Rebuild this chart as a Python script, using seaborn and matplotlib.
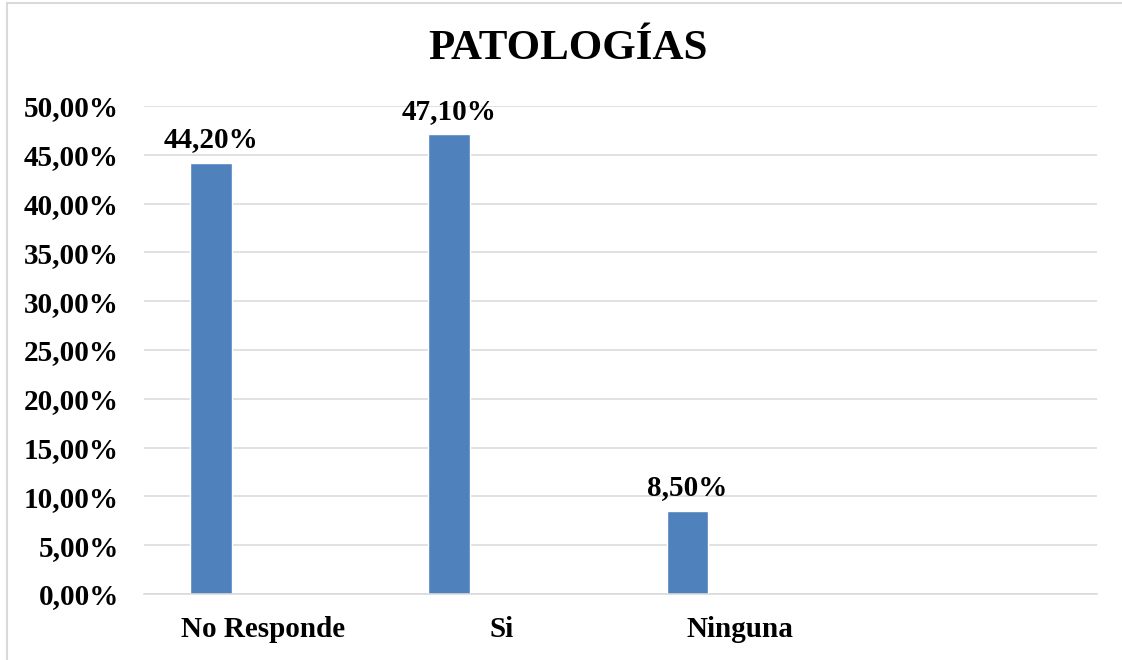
import numpy as np
import pandas as pd
import matplotlib
matplotlib.use("Agg")
import matplotlib.pyplot as plt
from matplotlib.lines import Line2D
from matplotlib.ticker import FuncFormatter, MultipleLocator
import seaborn as sns

# Chart data (percentages)
categories = ["No Responde", "Si", "Ninguna", ""]
values = [44.2, 47.1, 8.5, np.nan]
series = ["Serie 1", "Serie 1", "Serie 1", "Serie 1"]
series_order = ["Serie 1", "Serie 2", "Serie 3"]
title = "PATOLOGÍAS"

df = pd.DataFrame({"categoria": categories, "valor": values, "serie": series})

sns.set_theme(style="white")
plt.rcParams['font.family'] = ['Liberation Serif', 'DejaVu Serif']
plt.rcParams['font.weight'] = 'bold'

bar_color = "#4F81BD"
grid_color = "#D9D9D9"

fig = plt.figure(figsize=(11.22, 6.60), dpi=100)
ax = fig.add_axes([0.1283, 0.1, 0.8494, 0.7394])

sns.barplot(data=df, x="categoria", y="valor", hue="serie",
            order=categories, hue_order=series_order,
            palette=[bar_color, bar_color, bar_color],
            width=0.657, gap=0.2, dodge=True, errorbar=None,
            saturation=1, legend=False, ax=ax)

# Data labels
fmt = lambda v: f"{v:.2f}%".replace(".", ",")
for cont in ax.containers:
    labels = [fmt(v) if np.isfinite(v) else "" for v in cont.datavalues]
    ax.bar_label(cont, labels=labels, padding=7, fontsize=21,
                 fontweight='bold', color='black')

ax.set_ylim(0, 50)
ax.set_xlim(-0.5, len(categories) - 0.5)
ax.yaxis.set_major_locator(MultipleLocator(5))
ax.yaxis.set_major_formatter(FuncFormatter(lambda v, p: fmt(v)))
ax.grid(axis='y', color=grid_color, linewidth=1.1)
ax.set_axisbelow(True)
for s in ["top", "right", "left"]:
    ax.spines[s].set_visible(False)
ax.spines["bottom"].set_color(grid_color)
ax.spines["bottom"].set_linewidth(1.1)
ax.tick_params(axis='both', length=0, labelsize=21, colors='black')
ax.tick_params(axis='y', pad=18)
ax.tick_params(axis='x', pad=16)
for lbl in ax.get_xticklabels() + ax.get_yticklabels():
    lbl.set_fontweight('bold')
ax.set_xlabel("")
ax.set_ylabel("")

fig.text(568 / 1122, 1 - 49 / 660, title, ha='center', va='center',
         fontsize=31, fontweight='bold', color='black')

# Chart-area border: only left and top edges fall inside the image
bx, by = 7 / 1122, 1 - 3 / 660
fig.lines.append(Line2D([bx, bx], [0, by], transform=fig.transFigure,
                        color=grid_color, linewidth=1.5))
fig.lines.append(Line2D([bx, 1], [by, by], transform=fig.transFigure,
                        color=grid_color, linewidth=1.5))

fig.savefig("out.png", dpi=100, facecolor="white")
